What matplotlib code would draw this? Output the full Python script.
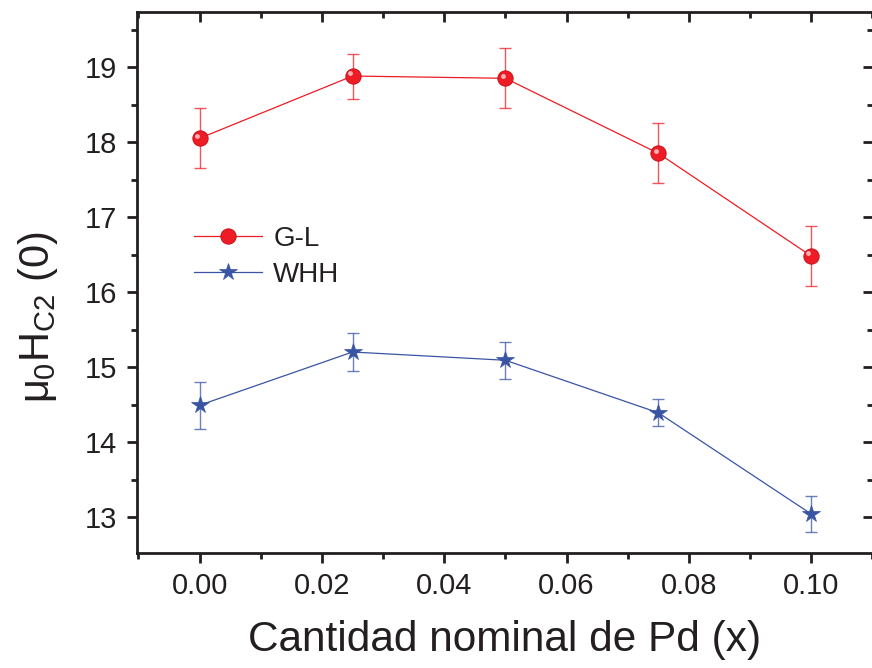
import matplotlib
matplotlib.use("Agg")
import matplotlib.pyplot as plt
import matplotlib.transforms as mtransforms
from matplotlib.ticker import MultipleLocator

x = [0.0, 0.025, 0.05, 0.075, 0.10]
gl = [18.05, 18.88, 18.85, 17.85, 16.48]
gl_err = [0.40, 0.30, 0.40, 0.40, 0.40]
whh = [14.49, 15.20, 15.09, 14.39, 13.04]
whh_err = [0.31, 0.25, 0.25, 0.18, 0.24]
xticks = [0.0, 0.02, 0.04, 0.06, 0.08, 0.10]
xticklabels = ['0.00', '0.02', '0.04', '0.06', '0.08', '0.10']

red = "#ee1c25"
blue = "#3a54a4"
ink = '#231f20'

plt.rcParams['font.family'] = ['Liberation Sans', 'DejaVu Sans']
plt.rcParams['mathtext.fontset'] = 'custom'
plt.rcParams['mathtext.rm'] = 'Liberation Sans'
plt.rcParams['mathtext.it'] = 'Liberation Sans'

W, H = 872, 668
fig = plt.figure(figsize=(W/100, H/100), dpi=100)
L, R, T, B = 136.6, 873.0, 12.3, 553.0
ax = fig.add_axes([L/W, 1-B/H, (R-L)/W, (B-T)/H])

ax.errorbar(x, gl, yerr=gl_err, fmt='none', ecolor=red, elinewidth=1.0,
            capsize=4.3, capthick=1.0, alpha=0.75, zorder=2)
ax.plot(x, gl, '-', color=red, lw=0.9, marker='o', ms=11, mfc=red,
        mec='#c8101a', mew=0.7, label='G-L', zorder=3)
hl = mtransforms.offset_copy(ax.transData, fig=fig, x=-2.0, y=2.0, units='points')
ax.plot(x, gl, 'o', ms=3.5, mfc='#ffb0b3', mec='none', transform=hl, zorder=4)

ax.errorbar(x, whh, yerr=whh_err, fmt='none', ecolor=blue, elinewidth=1.0,
            capsize=4.3, capthick=1.0, alpha=0.75, zorder=2)
ax.plot(x, whh, '-', color=blue, lw=0.9, marker='*', ms=13, mfc=blue,
        mec=blue, mew=0.5, label='WHH', zorder=3)

ax.set_xlim(-0.0103, 0.1101)
ax.set_ylim(12.52, 19.73)

ax.set_xticks(xticks)
ax.set_xticklabels(xticklabels)
ax.xaxis.set_minor_locator(MultipleLocator(0.01))
ax.yaxis.set_major_locator(MultipleLocator(1))
ax.yaxis.set_minor_locator(MultipleLocator(0.5))

for s in ax.spines.values():
    s.set_linewidth(2.0)
    s.set_color(ink)

ax.tick_params(axis='both', which='major', direction='out', length=7, width=2,
               labelsize=21, colors=ink, pad=7)
ax.tick_params(axis='both', which='minor', direction='out', length=4.5, width=2,
               colors=ink)
ax.tick_params(top=True, right=True, which='both')
for t in ax.xaxis.get_major_ticks() + ax.xaxis.get_minor_ticks():
    t.tick2line.set_marker(3)  # top ticks pointing inward
for t in ax.yaxis.get_major_ticks() + ax.yaxis.get_minor_ticks():
    t.tick2line.set_marker(0)  # right ticks pointing inward

ax.set_xlabel('Cantidad nominal de Pd (x)', fontsize=30.5, color=ink, labelpad=14)
ax.set_ylabel(r'$\mu_0$H$_{\rm C2}$ (0)', fontsize=30, color=ink)
ax.yaxis.set_label_coords((60 - L)/(R - L), (B - 317)/(B - T))

leg = ax.legend(loc='upper left', bbox_to_anchor=(0.063, 0.625), frameon=False,
                fontsize=20, handlelength=2.45, handletextpad=0.4, labelspacing=0.35,
                borderaxespad=0)
for txt in leg.get_texts():
    txt.set_color(ink)

fig.savefig('out.png', dpi=100)
